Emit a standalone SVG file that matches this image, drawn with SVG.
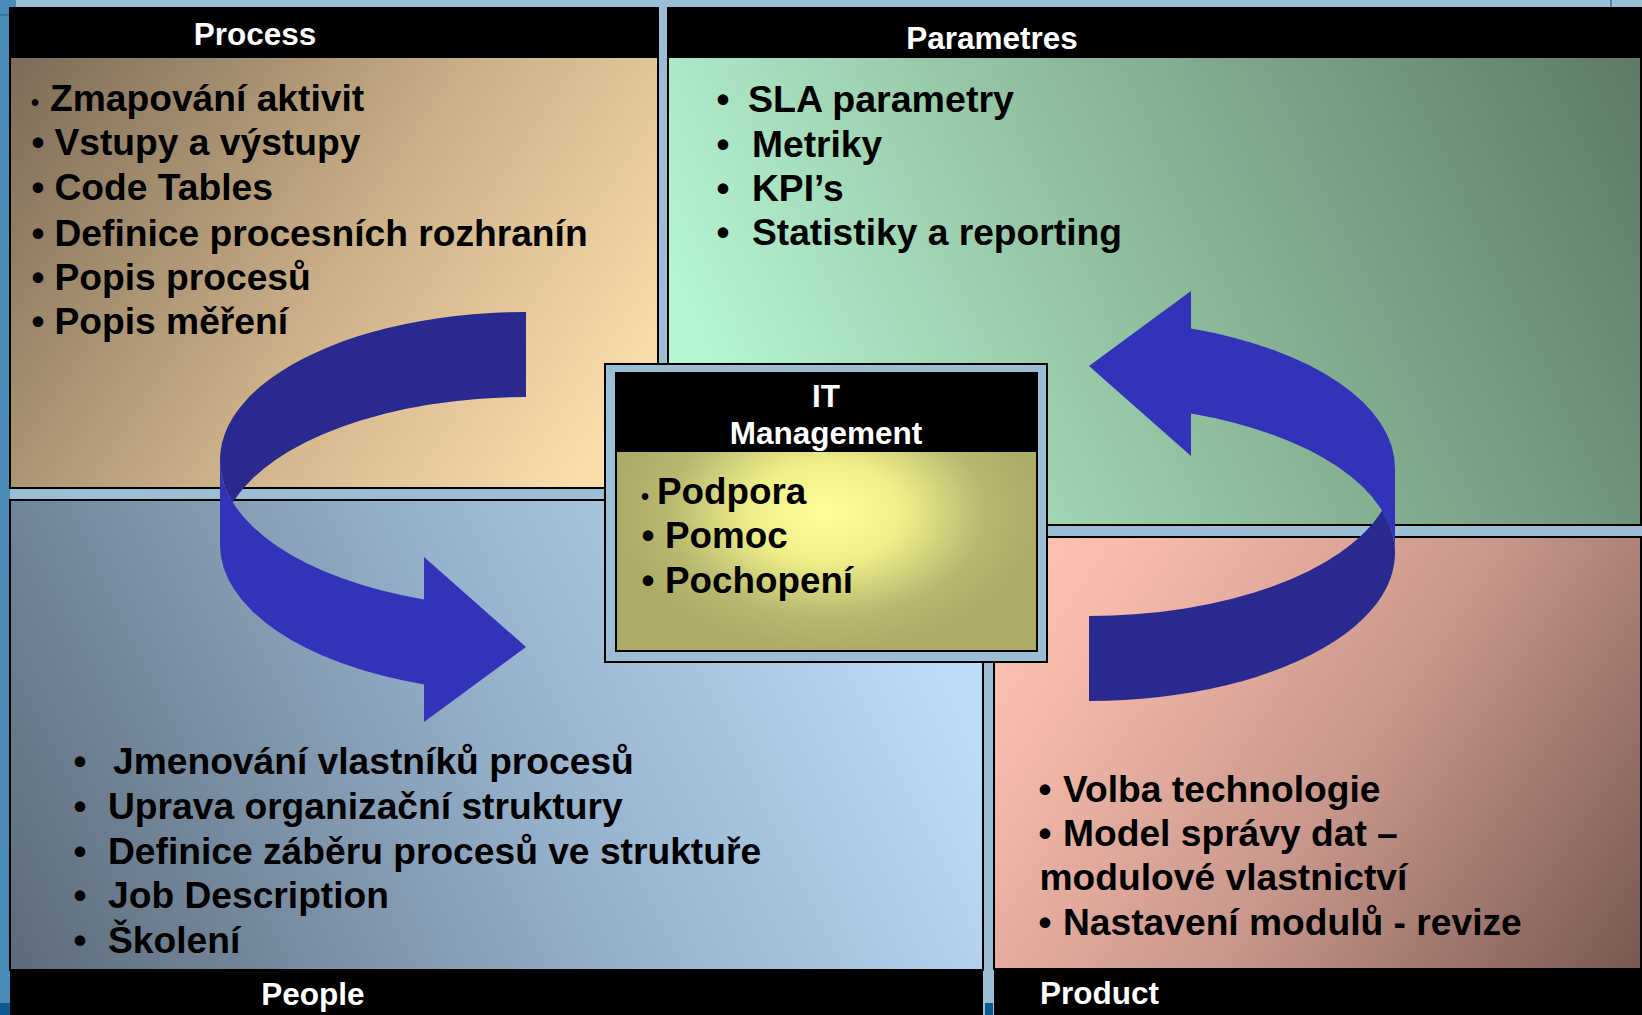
<svg xmlns="http://www.w3.org/2000/svg" width="1642" height="1015" viewBox="0 0 1642 1015">
  <defs>
    <style>
      .panel { stroke: #000; stroke-width: 2; }
      .bar { fill: #000; }
      .title { font-family: "Liberation Sans", Arial, sans-serif; font-weight: bold; font-size: 31.5px; fill: #fff; }
      .item { font-family: "Liberation Sans", Arial, sans-serif; font-weight: bold; font-size: 37.2px; fill: #000; }
      .bul { font-family: "Liberation Sans", Arial, sans-serif; font-weight: bold; font-size: 37px; fill: #000; text-anchor: middle; }
      .sbul { font-family: "Liberation Sans", Arial, sans-serif; font-weight: bold; font-size: 23px; fill: #000; text-anchor: middle; }
      .back { fill: #29298f; }
      .front { fill: #3333b9; }
    </style>
    <linearGradient id="gProcess" gradientUnits="userSpaceOnUse" x1="10" y1="58" x2="658" y2="488">
      <stop offset="0" stop-color="#7b6b57"/>
      <stop offset="0.5" stop-color="#cbaf87"/>
      <stop offset="0.9" stop-color="#fadcab"/>
      <stop offset="1" stop-color="#fbdeac"/>
    </linearGradient>
    <linearGradient id="gParam" gradientUnits="userSpaceOnUse" x1="1642" y1="58" x2="668" y2="525">
      <stop offset="0" stop-color="#5d7a65"/>
      <stop offset="0.5" stop-color="#8ebc9c"/>
      <stop offset="0.9" stop-color="#b5f5d2"/>
      <stop offset="1" stop-color="#b7f7d4"/>
    </linearGradient>
    <linearGradient id="gPeople" gradientUnits="userSpaceOnUse" x1="10" y1="970" x2="983" y2="500">
      <stop offset="0" stop-color="#5c6b79"/>
      <stop offset="0.5" stop-color="#94afca"/>
      <stop offset="0.9" stop-color="#bddcf7"/>
      <stop offset="1" stop-color="#bfdefa"/>
    </linearGradient>
    <linearGradient id="gProduct" gradientUnits="userSpaceOnUse" x1="994" y1="537" x2="1642" y2="969">
      <stop offset="0" stop-color="#fdc3b3"/>
      <stop offset="0.15" stop-color="#f8bcad"/>
      <stop offset="0.55" stop-color="#c8968b"/>
      <stop offset="1" stop-color="#775850"/>
    </linearGradient>
    <radialGradient id="gIT" cx="0.5" cy="0.5" r="0.5">
      <stop offset="0" stop-color="#ffff98"/>
      <stop offset="0.35" stop-color="#f0f08a"/>
      <stop offset="0.75" stop-color="#b8b870"/>
      <stop offset="1" stop-color="#acac68"/>
    </radialGradient>
    <path id="curvedArrow" d="M 220,460 A 306 148 0 0 0 424,599.5 L 424,557 L 526,647 L 424,722 L 424,684.5 A 306 148 0 0 1 220,545 Z"/>
    <path id="curvedBack" d="M 526,312 A 306 148 0 0 0 232.9,502.5 A 306 148 0 0 1 526,397 Z"/>
  </defs>

  <!-- background -->
  <rect x="0" y="0" width="1642" height="1015" fill="#9cbed5"/>
  <rect x="0" y="0" width="10" height="1015" fill="#4a8bb7"/>
  <rect x="0" y="0" width="16" height="8" fill="#4a8bb7"/>
  <line x1="0" y1="15" x2="10" y2="15" stroke="#2a6fa0" stroke-width="1.5"/>
  <rect x="0" y="1003" width="10" height="12" fill="#0b5b92"/>
  <rect x="985" y="1003" width="8" height="12" fill="#0b5b92"/>
  <line x1="1611" y1="0" x2="1611" y2="8" stroke="#2a6fa0" stroke-width="1.5"/>

  <g id="process">
    <polygon class="panel" fill="url(#gProcess)" points="10,8 658,8 658,364 605,364 605,488 10,488"/>
    <rect class="bar" x="10" y="8" width="648" height="50"/>
    <text class="title" x="255" y="45" text-anchor="middle">Process</text>
    <text class="sbul" x="35" y="111">•</text>
    <text class="item" x="50" y="111">Zmapování aktivit</text>
    <text class="bul" x="38" y="155">•</text>
    <text class="item" x="54.5" y="155">Vstupy a výstupy</text>
    <text class="bul" x="38" y="200">•</text>
    <text class="item" x="54.5" y="200">Code Tables</text>
    <text class="bul" x="38" y="246">•</text>
    <text class="item" x="54.5" y="246">Definice procesních rozhranín</text>
    <text class="bul" x="38" y="290">•</text>
    <text class="item" x="54.5" y="290">Popis procesů</text>
    <text class="bul" x="38" y="334">•</text>
    <text class="item" x="54.5" y="334">Popis měření</text>
  </g>

  <g id="parametres">
    <polygon class="panel" fill="url(#gParam)" points="668,8 1641,8 1641,525 1047,525 1047,364 668,364"/>
    <rect class="bar" x="668" y="8" width="973" height="50"/>
    <text class="title" x="992" y="49" text-anchor="middle">Parametres</text>
    <text class="bul" x="723" y="112">•</text>
    <text class="item" x="748" y="112" style="font-size:37.6px">SLA parametry</text>
    <text class="bul" x="723" y="157">•</text>
    <text class="item" x="752" y="157">Metriky</text>
    <text class="bul" x="723" y="201">•</text>
    <text class="item" x="752" y="201">KPI’s</text>
    <text class="bul" x="723" y="245">•</text>
    <text class="item" x="752" y="245">Statistiky a reporting</text>
  </g>

  <g id="people">
    <polygon class="panel" fill="url(#gPeople)" points="10,500 605,500 605,662 983,662 983,970 10,970"/>
    <rect class="bar" x="10" y="970" width="973" height="45"/>
    <text class="title" x="313" y="1005" text-anchor="middle">People</text>
    <text class="bul" x="80" y="774">•</text>
    <text class="item" x="113" y="774">Jmenování vlastníků procesů</text>
    <text class="bul" x="80" y="819">•</text>
    <text class="item" x="108" y="819">Uprava organizační struktury</text>
    <text class="bul" x="80" y="864">•</text>
    <text class="item" x="108" y="864">Definice záběru procesů ve struktuře</text>
    <text class="bul" x="80" y="908">•</text>
    <text class="item" x="108" y="908">Job Description</text>
    <text class="bul" x="80" y="953">•</text>
    <text class="item" x="108" y="953">Školení</text>
  </g>

  <g id="product">
    <polygon class="panel" fill="url(#gProduct)" points="1047,537 1641,537 1641,969 994,969 994,662 1047,662"/>
    <rect class="bar" x="994" y="969" width="648" height="46"/>
    <text class="title" x="1040" y="1004">Product</text>
    <text class="bul" x="1045" y="802">•</text>
    <text class="item" x="1063" y="802">Volba technologie</text>
    <text class="bul" x="1045" y="846">•</text>
    <text class="item" x="1063" y="846">Model správy dat –</text>
    <text class="item" x="1039.5" y="890">modulové vlastnictví</text>
    <text class="bul" x="1045" y="935">•</text>
    <text class="item" x="1063" y="935">Nastavení modulů - revize</text>
  </g>

  <g id="it-management">
    <rect x="605" y="364" width="442" height="298" fill="#9cbed5" stroke="#000" stroke-width="2"/>
    <rect class="panel" x="616" y="373" width="421" height="278" fill="url(#gIT)"/>
    <rect class="bar" x="616" y="373" width="421" height="79"/>
    <text class="title" x="826" y="407" text-anchor="middle">IT</text>
    <text class="title" x="826" y="444" text-anchor="middle">Management</text>
    <text class="sbul" x="645" y="505">•</text>
    <text class="item" x="657" y="504" style="font-size:36.8px">Podpora</text>
    <text class="bul" x="648" y="548">•</text>
    <text class="item" x="665" y="548" style="font-size:36.8px">Pomoc</text>
    <text class="bul" x="648" y="593">•</text>
    <text class="item" x="665" y="593" style="font-size:36.8px">Pochopení</text>
  </g>

  <g id="connectors">
    <g id="arrow-process-people">
      <use href="#curvedBack" class="back"/>
      <use href="#curvedArrow" class="front"/>
    </g>
    <g id="arrow-product-parametres" transform="rotate(180 807.5 506.5)">
      <use href="#curvedBack" class="back"/>
      <use href="#curvedArrow" class="front"/>
    </g>
  </g>
</svg>
